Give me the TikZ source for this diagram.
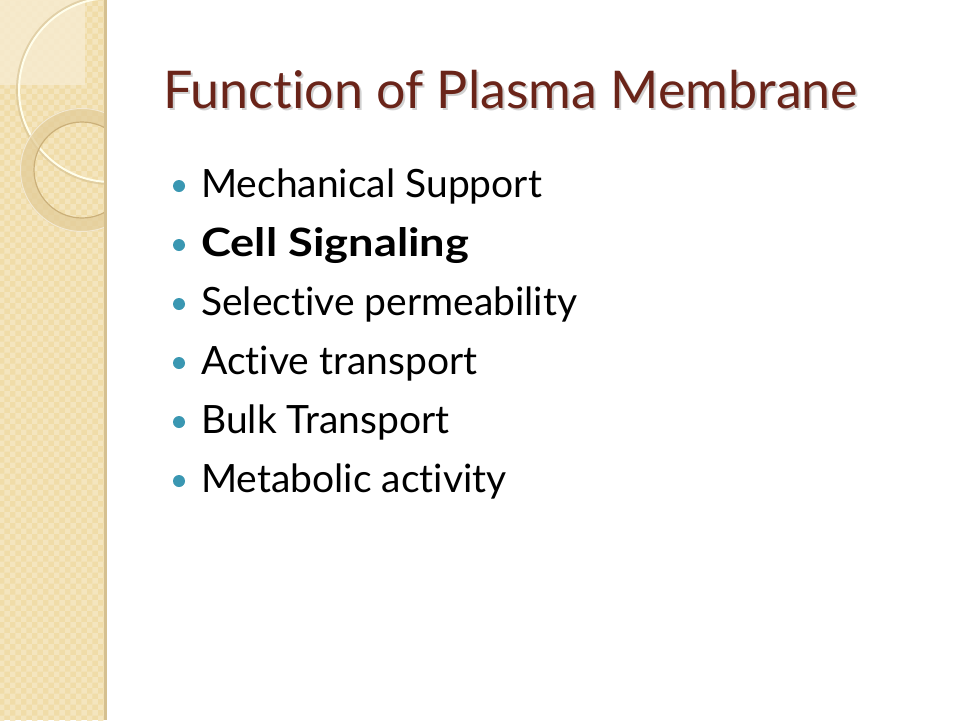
\documentclass[tikz,border=0pt]{standalone}
\usepackage{fontspec}
\setmainfont{Lato}[Ligatures={NoCommon,NoRequired,NoContextual}]
\usetikzlibrary{patterns}
\definecolor{stripbg}{HTML}{F0DCA8}
\definecolor{stripedge}{HTML}{D5C090}
\definecolor{lightsq}{HTML}{F7EBCF}
\definecolor{ringcol}{HTML}{E3CD9A}
\definecolor{ringedge}{HTML}{CBB07A}
\definecolor{titlecol}{HTML}{6A2419}
\definecolor{bulletcol}{HTML}{3A97B2}
\tikzset{
  titletext/.style={anchor=base west, inner sep=0pt, text=titlecol, font=\fontsize{52}{62}\selectfont},
  shadowtext/.style={anchor=base west, inner sep=0pt, text=black, opacity=0.18, font=\fontsize{52}{62}\selectfont},
  itemtext/.style={anchor=base west, inner sep=0pt, text=black, font=\fontsize{39}{46}\selectfont},
  bulletdot/.style={circle, fill=bulletcol, inner sep=0pt, minimum size=12pt},
}
\begin{document}
\begin{tikzpicture}[x=1pt,y=-1pt]
\useasboundingbox (0,0) rectangle (960,720);
\fill[white] (0,0) rectangle (960,720);
% left strip
\fill[stripbg] (0,0) rectangle (105,720);
\fill[pattern=checkerboard, pattern color=stripbg!75!white] (0,0) rectangle (105,720);
\begin{scope}
\clip (0,0) rectangle (105,720);
\fill[lightsq, opacity=0.85] (0,0) rectangle (85,85);
\draw[stripedge, line width=3pt, opacity=0.6] (111,90) circle (93.5);
\draw[white!92!yellow, line width=2pt] (111,90) circle (92);
\fill[ringcol, opacity=0.75, even odd rule] (82,170) circle (62) (82,170) circle (48);
\draw[white!55!ringcol, line width=1pt] (82,170) circle (61.5);
\draw[ringedge, line width=1.2pt] (82,170) circle (48);
\end{scope}
\fill[stripedge] (104,0) rectangle (106.5,720);
% title
\node[shadowtext] (titleshadow) at (165,110.5) {Function of Plasma Membrane};
\node[titletext] (title) at (163,108) {Function of Plasma Membrane};
% bullets
\foreach \i/\t in {1/Mechanical Support,2/{\scalebox{1.16}[1]{\bfseries Cell Signaling}},3/Selective permeability,4/Active transport,5/Bulk Transport,6/Metabolic activity}{
  \node[bulletdot] (b\i) at (179,197+59*\i-59-11) {};
  \node[itemtext] (t\i) at (201,197+59*\i-59) {\t};
}
\end{tikzpicture}
\end{document}
